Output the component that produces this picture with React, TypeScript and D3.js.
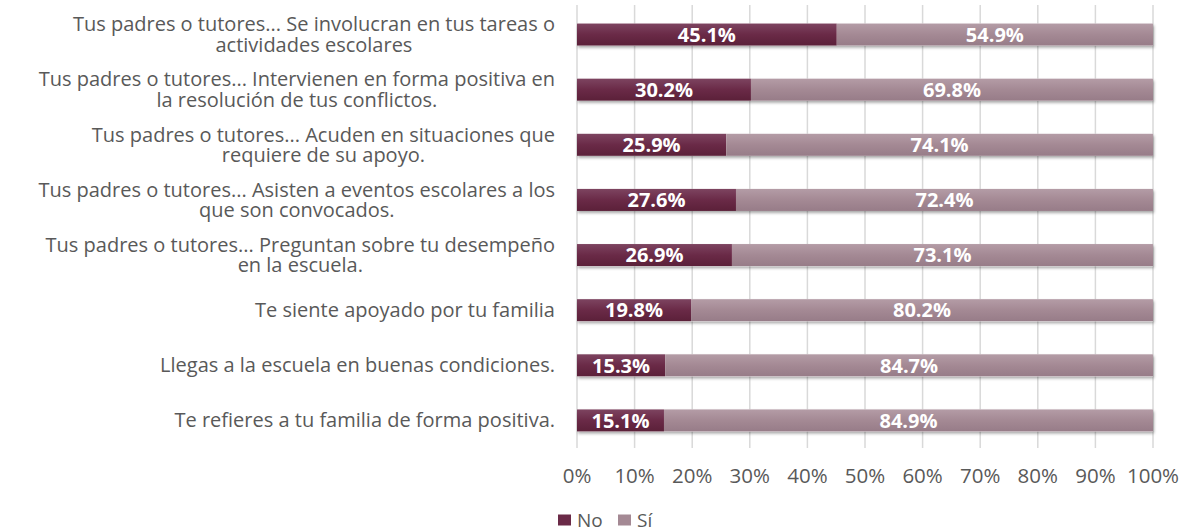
import React, { useEffect, useRef } from "react";
import * as d3 from "d3";

// category labels, already split into lines the way the chart wraps them
const categories: string[][] = [
  ["Tus padres o tutores... Se involucran en tus tareas o", "actividades escolares"],
  ["Tus padres o tutores... Intervienen en forma positiva en", "la resolución de tus conflictos."],
  ["Tus padres o tutores... Acuden en situaciones que", "requiere de su apoyo."],
  ["Tus padres o tutores... Asisten a eventos escolares a los", "que son convocados."],
  ["Tus padres o tutores... Preguntan sobre tu desempeño", "en la escuela."],
  ["Te siente apoyado por tu familia"],
  ["Llegas a la escuela en buenas condiciones."],
  ["Te refieres a tu familia de forma positiva."],
];
const noValues = [45.1, 30.2, 25.9, 27.6, 26.9, 19.8, 15.3, 15.1];
const siValues = [54.9, 69.8, 74.1, 72.4, 73.1, 80.2, 84.7, 84.9];
const seriesNames = ["No", "Sí"];
const tickValues = [0, 10, 20, 30, 40, 50, 60, 70, 80, 90, 100];

const App = () => {
  const ref = useRef<SVGSVGElement>(null);

  useEffect(() => {
    const W = 1187;
    const H = 531;
    const left = 577;
    const right = 1153;
    const top = 7;
    const bottom = 448;
    const font = "'Open Sans', 'DejaVu Sans', sans-serif";
    const textColor = "#595959";
    const colors = ["#6a2a47", "#a48994"];

    const svg = d3.select(ref.current);
    svg.selectAll("*").remove();
    svg.attr("width", W).attr("height", H);

    const defs = svg.append("defs");
    const grads = ["noGrad", "siGrad"];
    const tops = ["#7d4460", "#b49ca6"];
    const bots = ["#5b2039", "#977c88"];
    grads.forEach((id, i) => {
      const g = defs.append("linearGradient").attr("id", id).attr("x1", 0).attr("y1", 0).attr("x2", 0).attr("y2", 1);
      g.append("stop").attr("offset", "0%").attr("stop-color", tops[i]);
      g.append("stop").attr("offset", "50%").attr("stop-color", colors[i]);
      g.append("stop").attr("offset", "100%").attr("stop-color", bots[i]);
    });
    const f = defs.append("filter").attr("id", "shadow").attr("x", "-5%").attr("y", "-20%").attr("width", "110%").attr("height", "160%");
    f.append("feDropShadow").attr("dx", 1).attr("dy", 2).attr("stdDeviation", 1.5).attr("flood-color", "#000").attr("flood-opacity", 0.35);

    const x = d3.scaleLinear().domain([0, 100]).range([left, right]);
    const y = d3.scaleBand<number>().domain(d3.range(categories.length)).range([top, bottom]).paddingInner(0.6).paddingOuter(0.3);

    // gridlines
    svg.append("g")
      .selectAll("line")
      .data(tickValues)
      .join("line")
      .attr("x1", (d) => x(d))
      .attr("x2", (d) => x(d))
      .attr("y1", top - 2)
      .attr("y2", bottom)
      .attr("stroke", "#d9d9d9")
      .attr("stroke-width", 1.5);

    // tick labels
    svg.append("g")
      .selectAll("text")
      .data(tickValues)
      .join("text")
      .attr("x", (d) => x(d))
      .attr("y", 476)
      .attr("dy", "0.35em")
      .attr("text-anchor", "middle")
      .attr("font-family", font)
      .attr("font-size", 20.5)
      .attr("fill", textColor)
      .text((d) => d + "%");

    // stacked bars
    const stacked = categories.map((_, i) => [
      { s: 0, x0: 0, x1: noValues[i], v: noValues[i] },
      { s: 1, x0: noValues[i], x1: noValues[i] + siValues[i], v: siValues[i] },
    ]);
    const rows = svg.append("g").selectAll("g").data(stacked).join("g")
      .attr("transform", (_, i) => `translate(0,${y(i)})`);

    rows.append("rect")
      .attr("x", x(0))
      .attr("y", 0)
      .attr("width", x(100) - x(0))
      .attr("height", y.bandwidth())
      .attr("fill", "#fff")
      .attr("filter", "url(#shadow)");

    rows.selectAll("rect.seg")
      .data((d) => d)
      .join("rect")
      .attr("class", "seg")
      .attr("x", (d) => x(d.x0))
      .attr("y", 0)
      .attr("width", (d) => x(d.x1) - x(d.x0))
      .attr("height", y.bandwidth())
      .attr("fill", (d) => `url(#${grads[d.s]})`);

    rows.selectAll("text.val")
      .data((d) => d)
      .join("text")
      .attr("class", "val")
      .attr("x", (d) => (x(d.x0) + x(d.x1)) / 2)
      .attr("y", y.bandwidth() / 2)
      .attr("dy", "0.36em")
      .attr("text-anchor", "middle")
      .attr("font-family", font)
      .attr("font-weight", "bold")
      .attr("font-size", 20)
      .attr("fill", "#fff")
      .text((d) => d.v.toFixed(1) + "%");

    // category labels, multi-line centred as a block right-aligned to the axis
    const labelRight = 555;
    const lineH = 20.5;
    categories.forEach((lines, i) => {
      const cy = (y(i) as number) + y.bandwidth() / 2;
      const g = svg.append("g");
      const texts = lines.map((ln, k) =>
        g.append("text")
          .attr("y", cy + (k - (lines.length - 1) / 2) * lineH)
          .attr("dy", "0.35em")
          .attr("font-family", font)
          .attr("font-size", 20)
          .attr("fill", textColor)
          .attr("text-anchor", "middle")
          .text(ln)
      );
      const widths = texts.map((t) => (t.node() as SVGTextElement).getComputedTextLength());
      const maxW = Math.max(...widths);
      texts.forEach((t) => t.attr("x", labelRight - maxW / 2));
    });

    // legend
    const legend = svg.append("g").attr("transform", "translate(558,520)");
    const offsets = [0, 60];
    seriesNames.forEach((name, i) => {
      legend.append("rect")
        .attr("x", offsets[i])
        .attr("y", -5.5)
        .attr("width", 13)
        .attr("height", 11)
        .attr("fill", colors[i]);
      legend.append("text")
        .attr("x", offsets[i] + 19)
        .attr("y", 0)
        .attr("dy", "0.35em")
        .attr("font-family", font)
        .attr("font-size", 19)
        .attr("fill", textColor)
        .text(name);
    });
  }, []);

  return <svg ref={ref} style={{ position: "absolute", left: 0, top: 0 }} />;
};

export default App;
